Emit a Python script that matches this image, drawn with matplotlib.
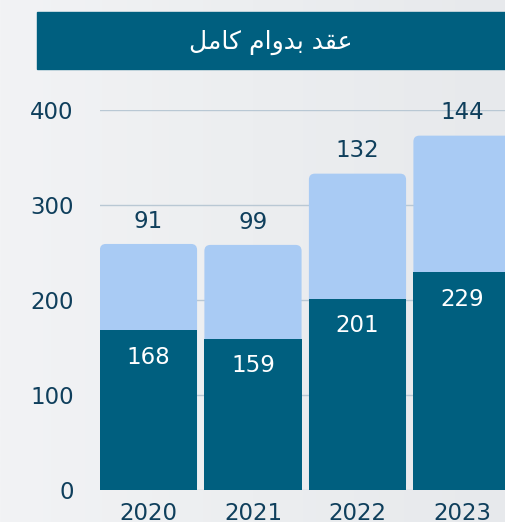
import matplotlib
matplotlib.use("Agg")
import matplotlib.pyplot as plt
import numpy as np
from matplotlib.patches import FancyBboxPatch, Rectangle
from matplotlib.colors import LinearSegmentedColormap

years = ["2020", "2021", "2022", "2023"]
bottom_vals = [168, 159, 201, 229]
top_vals = [91, 99, 132, 144]
yticks = [0, 100, 200, 300, 400]
# عقد بدوام كامل (shaped presentation forms, visual order)
title = "\uFEDE\uFEE3\uFE8E\uFEDB \uFEE1\uFE8D\uFEED\uFEAA\uFE91 \uFEAA\uFED8\uFECB"

DARK = "#005f7f"
LIGHT = "#a9cbf4"
TXT = "#0f3f5c"
GRID = "#b9c8d4"
NUMFONT = dict(family="DejaVu Sans", weight="normal")

W, H = 506, 522
fig = plt.figure(figsize=(W / 100, H / 100), dpi=100)

# background gradient
bg = fig.add_axes([0, 0, 1, 1], zorder=-10)
grad = np.linspace(0, 1, 256)[None, :]
cmap = LinearSegmentedColormap.from_list("bg", ["#f2f3f5", "#eceef0", "#e7e9ec"])
bg.imshow(grad, aspect="auto", cmap=cmap, extent=[0, 1, 0, 1])
bg.set_axis_off()

# title banner
fig.patches.append(Rectangle((37 / W, 1 - 69 / H), (W - 37) / W + 0.05, 57 / H,
                             transform=fig.transFigure, color=DARK, zorder=1))
fig.text(271 / W, 1 - 42 / H, title, color="white", fontsize=18,
         family="DejaVu Sans", ha="center", va="center", zorder=2)

# main axes
left, right = 100, 506
bottom_px, top_px = 490, 110
x_per = 104.5
xl = -0.464
xr = xl + (right - left) / x_per
ax = fig.add_axes([left / W, 1 - bottom_px / H, (right - left) / W, (bottom_px - top_px) / H])
ax.set_facecolor("none")
ax.set_xlim(xl, xr)
ax.set_ylim(0, 400)
for s in ax.spines.values():
    s.set_visible(False)

x = np.arange(len(years))
totals = [b + t for b, t in zip(bottom_vals, top_vals)]
bw = 0.93

for yv in yticks:
    ax.axhline(yv, color=GRID, lw=1.0, zorder=0)

# light (total) bars with rounded top corners
fig.canvas.draw()
px_x = ax.transData.transform((1, 0))[0] - ax.transData.transform((0, 0))[0]
px_y = ax.transData.transform((0, 1))[1] - ax.transData.transform((0, 0))[1]
r_px = 6
rs = r_px / px_x
asp = (r_px / px_y) / rs
light = ax.bar(x, totals, width=bw, color=LIGHT, zorder=2)
for rect in light:
    p = FancyBboxPatch((rect.get_x(), rect.get_y()), rect.get_width(), rect.get_height(),
                       boxstyle=f"round,pad=0,rounding_size={rs}", mutation_aspect=asp,
                       facecolor=LIGHT, edgecolor="none", zorder=2)
    ax.add_patch(p)
    rect.remove()
ax.bar(x, bottom_vals, width=bw, color=DARK, zorder=3)

for xi, b, t, tot in zip(x, bottom_vals, top_vals, totals):
    ax.text(xi, tot + 24, str(t), ha="center", va="center", color=TXT, fontsize=16.5, zorder=4, **NUMFONT)
    ax.text(xi, b - 28, str(b), ha="center", va="center", color="white", fontsize=16.5, zorder=4, **NUMFONT)

ax.set_yticks(yticks)
ax.set_yticklabels([str(v) for v in yticks], fontsize=16.5, color=TXT, **NUMFONT)
ax.set_xticks(x)
ax.set_xticklabels(years, fontsize=16.5, color=TXT, **NUMFONT)
ax.tick_params(axis="y", length=0, pad=19)
ax.tick_params(axis="x", length=0, pad=9)

fig.savefig("out.png", dpi=100)
